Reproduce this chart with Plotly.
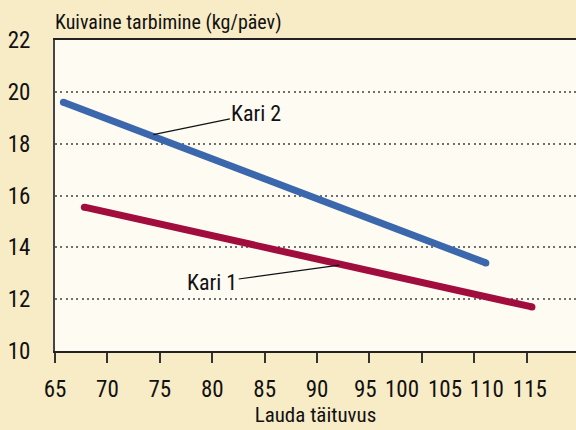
import numpy as np
import plotly.graph_objects as go

# ── Colours ─────────────────────────────────────────────────────────────────
_PAPER = '#f8ecc6'
_PLOT  = '#fefbf3'
_BLUE  = '#3b67ad'
_RED   = '#a10e3d'
_GRID  = '#6f6f6f'
_TEXT  = '#111111'
_FONT  = 'Liberation Sans Narrow, Arial Narrow, Roboto Condensed, Roboto, sans-serif'

# ── Data ────────────────────────────────────────────────────────────────────
kari2_x = [65.8, 106.1]
kari2_y = [19.6, 13.4]
kari1_x = [67.8, 110.5]
kari1_y = [15.55, 11.7]

# tick marks every 5 units, the printed labels sit a little apart from them
x_ticks = [65, 70, 75, 80, 85, 90, 95, 100, 105, 110]
x_label_pos = [65, 70, 75, 80, 85, 90, 94.6, 98.1, 102.2, 106.2, 110.3]
x_labels = ['65', '70', '75', '80', '85', '90', '95', '100', '105', '110', '115']
y_ticks = [10, 12, 14, 16, 18, 20, 22]

# where the leader lines touch each series
kari2_label_x = 74.1
kari1_label_x = 92.4

fig = go.Figure()

for xs, ys, color, name in [(kari2_x, kari2_y, _BLUE, 'Kari 2'),
                            (kari1_x, kari1_y, _RED, 'Kari 1')]:
    fig.add_trace(go.Scatter(
        x=xs, y=ys, mode='lines+markers', name=name,
        line=dict(color=color, width=7),
        marker=dict(color=color, size=7),
        showlegend=False, hoverinfo='skip',
    ))

# invisible trace so the label axis gets drawn
fig.add_trace(go.Scatter(x=[x_ticks[0]], y=[y_ticks[0]], xaxis='x2',
                         mode='markers', marker=dict(opacity=0),
                         showlegend=False, hoverinfo='skip'))

leader = dict(showarrow=True, arrowhead=0, arrowwidth=1.2, arrowcolor=_TEXT,
              font=dict(size=22, color=_TEXT, family=_FONT), standoff=3)
fig.add_annotation(x=kari2_label_x, y=float(np.interp(kari2_label_x, kari2_x, kari2_y)),
                   text='Kari 2', ax=106, ay=-22, **leader)
fig.add_annotation(x=kari1_label_x, y=float(np.interp(kari1_label_x, kari1_x, kari1_y)),
                   text='Kari 1', ax=-130, ay=18, **leader)

x_range = [65, 114.7]

fig.update_layout(
    width=576, height=430,
    margin=dict(l=55, r=0, t=40, b=79),
    paper_bgcolor=_PAPER,
    plot_bgcolor=_PLOT,
    font=dict(family=_FONT, color=_TEXT, size=23),
    title=dict(text='Kuivaine tarbimine (kg/päev)', font=dict(size=20, color=_TEXT),
               x=0, xref='paper', xanchor='left',
               y=1 - 22 / 430, yref='container', yanchor='middle'),
    xaxis=dict(
        range=x_range, tickvals=x_ticks, showticklabels=False,
        ticks='outside', ticklen=10, tickwidth=2, tickcolor='#333333',
        showline=True, linecolor='#222222', linewidth=2, mirror=True,
        showgrid=False, zeroline=False, automargin=False,
    ),
    xaxis2=dict(
        range=x_range, overlaying='x', anchor='y', side='bottom',
        tickvals=x_label_pos, ticktext=x_labels, ticks='',
        ticklabelstandoff=22, automargin=False,
        showline=False, showgrid=False, zeroline=False,
        title=dict(text='Lauda täituvus', font=dict(size=21), standoff=4),
    ),
    yaxis=dict(
        range=[10, 22], tickvals=y_ticks, ticks='', ticklabelstandoff=18,
        showline=True, linecolor='#444444', linewidth=2,
        showgrid=True, gridcolor=_GRID, gridwidth=2, griddash='2px,3.3px',
        zeroline=False, automargin=False,
    ),
)

# the page body has an 8px default margin; drop it so the figure fills the window
fig.write_html('out.html', config={'displayModeBar': False},
               post_script="document.body.style.margin = '0';")
